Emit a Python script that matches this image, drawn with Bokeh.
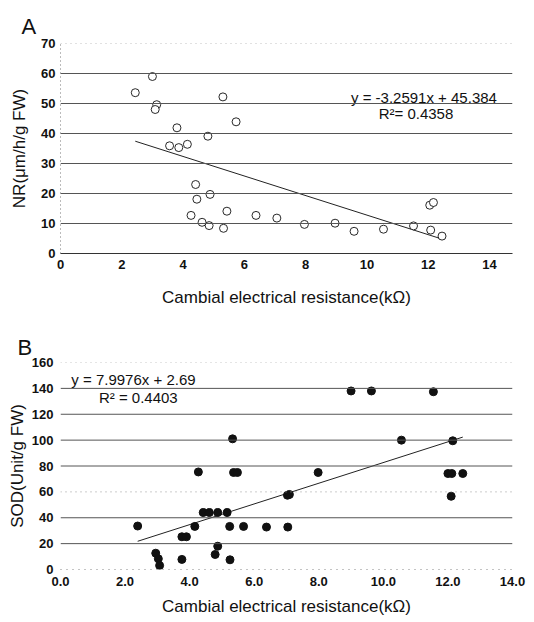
from bokeh.plotting import figure
from bokeh.layouts import column
from bokeh.models import Range1d, FixedTicker, Span, PrintfTickFormatter
from bokeh.core.properties import value
from bokeh.embed import file_html
from bokeh.resources import INLINE

# ---------------- Panel A data: NR vs cambial electrical resistance ----------------
nr_x = [2.44, 3.0, 3.14, 3.09, 3.8, 5.3, 5.73, 4.81, 3.56, 3.86, 4.14, 4.41, 4.45, 4.88, 4.26,
        4.62, 4.85, 5.32, 5.43, 6.38, 7.06, 7.96, 8.96, 9.58, 10.54, 11.52, 12.05, 12.17, 12.08, 12.45]
nr_y = [53.6, 59.0, 49.6, 48.0, 41.9, 52.2, 43.9, 39.1, 35.9, 35.3, 36.4, 23.0, 18.1, 19.7, 12.7,
        10.4, 9.3, 8.4, 14.1, 12.7, 11.8, 9.7, 10.1, 7.4, 8.1, 9.2, 16.1, 17.0, 7.8, 5.8]
nr_slope, nr_intercept = -3.2591, 45.384
nr_eq = ["y = -3.2591x + 45.384", "R\u00b2= 0.4358"]
nr_eq_x = [11.86, 11.6]
nr_eq_y = [52.0, 46.7]
nr_yticks = [0, 10, 20, 30, 40, 50, 60, 70]
nr_xticks = [0, 2, 4, 6, 8, 10, 12, 14]

# ---------------- Panel B data: SOD vs cambial electrical resistance ----------------
sod_x = [9.0, 9.63, 11.55, 5.33, 10.56, 12.15, 4.27, 5.36, 5.48, 7.98, 12.0, 12.12, 12.46,
         7.03, 7.09, 12.1, 2.39, 2.95, 3.03, 3.07, 3.76, 3.76, 3.9, 4.16, 4.42, 4.61, 4.87,
         5.16, 4.79, 4.87, 5.24, 5.25, 5.67, 6.38, 7.04]
sod_y = [138, 138, 137.4, 101, 100, 99.5, 75.4, 75, 75, 75, 74.2, 74.2, 74.2,
         57.4, 58.0, 56.6, 33.6, 12.6, 8.3, 3.1, 7.8, 25.3, 25.3, 33.3, 44, 44, 44,
         44, 11.6, 18, 33.3, 7.5, 33.3, 32.8, 32.8]
sod_slope, sod_intercept = 7.9976, 2.69
sod_eq = ["y = 7.9976x + 2.69", "R\u00b2 = 0.4403"]
sod_eq_x = [2.26, 2.41]
sod_eq_y = [146.5, 133.0]
sod_yticks = [0, 20, 40, 60, 80, 100, 120, 140, 160]
sod_xticks = [0, 2, 4, 6, 8, 10, 12, 14]

FONT = "Liberation Sans"
XTITLE = "Cambial electrical resistance(k\u03a9)"


def style_axes(p, xticks, yticks, ylabel, xfmt=None):
    for ax in (p.xaxis[0], p.yaxis[0]):
        ax.major_tick_out = 0
        ax.major_tick_in = 0
        ax.minor_tick_out = 0
        ax.minor_tick_in = 0
        ax.major_label_text_font = FONT
        ax.major_label_text_font_size = "13px"
        ax.major_label_text_font_style = "bold"
        ax.major_label_text_color = "#111111"
        ax.axis_label_text_font = FONT
        ax.axis_label_text_font_size = "17px"
        ax.axis_label_text_font_style = "normal"
        ax.axis_label_text_color = "#111111"
    p.xaxis[0].ticker = FixedTicker(ticks=xticks)
    p.yaxis[0].ticker = FixedTicker(ticks=yticks)
    if xfmt:
        p.xaxis[0].formatter = PrintfTickFormatter(format=xfmt)
    p.xaxis[0].axis_label = XTITLE
    p.yaxis[0].axis_label = ylabel
    p.xgrid.visible = False
    p.ygrid.visible = False
    p.outline_line_color = None
    p.title.text_font = FONT
    p.title.text_font_size = "22px"
    p.title.text_font_style = "normal"
    p.title.text_color = "#111111"
    p.title.align = "left"
    p.title.standoff = 10


# ---------------- Figure A ----------------
pa = figure(width=534, height=318, x_range=Range1d(0, 14.75), y_range=Range1d(0, 70),
            output_backend="svg", toolbar_location=None, title="A",
            min_border_left=60, min_border_right=14, min_border_top=43, min_border_bottom=65)
style_axes(pa, nr_xticks, nr_yticks, "NR(\u03bcm/h/g FW)")
pa.title.offset = -39
pa.xaxis[0].major_label_standoff = 6
pa.xaxis[0].axis_label_standoff = 16
pa.xaxis[0].axis_line_color = "#333333"
pa.yaxis[0].major_label_standoff = 5
pa.yaxis[0].axis_label_standoff = 9
pa.yaxis[0].axis_line_color = "#777777"
pa.yaxis[0].axis_line_dash = "1 3"

for v in nr_yticks[1:]:
    top = v == nr_yticks[-1]
    pa.add_layout(Span(location=v, dimension="width", line_color="#888888" if top else "#555555",
                       line_width=1, line_dash="1 4" if top else "solid"))

ax0, ax1 = min(nr_x), max(nr_x)
pa.line([ax0, ax1], [nr_slope * ax0 + nr_intercept, nr_slope * ax1 + nr_intercept],
        line_color="#222222", line_width=1)
pa.scatter(nr_x, nr_y, marker="circle", size=8, fill_color="white", line_color="#111111", line_width=0.9)
pa.text(nr_eq_x, nr_eq_y, text=nr_eq, text_align="center", text_baseline="middle",
        text_font=value(FONT), text_font_size="15px", text_color="#111111")

# ---------------- Figure B ----------------
pb = figure(width=534, height=303, x_range=Range1d(0, 14), y_range=Range1d(0, 160),
            output_backend="svg", toolbar_location=None, title="B",
            min_border_left=60, min_border_right=22, min_border_top=44, min_border_bottom=52)
style_axes(pb, sod_xticks, sod_yticks, "SOD(Unit/g FW)", xfmt="%.1f")
pb.title.offset = -43
pb.title.standoff = 6
pb.xaxis[0].major_label_standoff = 7
pb.xaxis[0].axis_label_standoff = 8
pb.xaxis[0].axis_line_color = "#888888"
pb.xaxis[0].axis_line_dash = "1 5"
pb.yaxis[0].major_label_standoff = 7
pb.yaxis[0].axis_label_standoff = 2
pb.yaxis[0].axis_line_color = None

for v in sod_yticks[1:]:
    dotted = v in (60, 160)
    pb.add_layout(Span(location=v, dimension="width",
                       line_color="#999999" if dotted else "#555555", line_width=1,
                       line_dash="1 4" if dotted else "solid"))

bx0, bx1 = min(sod_x), max(sod_x)
pb.line([bx0, bx1], [sod_slope * bx0 + sod_intercept, sod_slope * bx1 + sod_intercept],
        line_color="#222222", line_width=1)
pb.scatter(sod_x, sod_y, marker="circle", size=8, fill_color="#111111", line_color="#111111")
pb.text(sod_eq_x, sod_eq_y, text=sod_eq, text_align="center", text_baseline="middle",
        text_font=value(FONT), text_font_size="15px", text_color="#111111")

layout = column(pa, pb, spacing=0)
open("out.html", "w").write(file_html(layout, INLINE))
